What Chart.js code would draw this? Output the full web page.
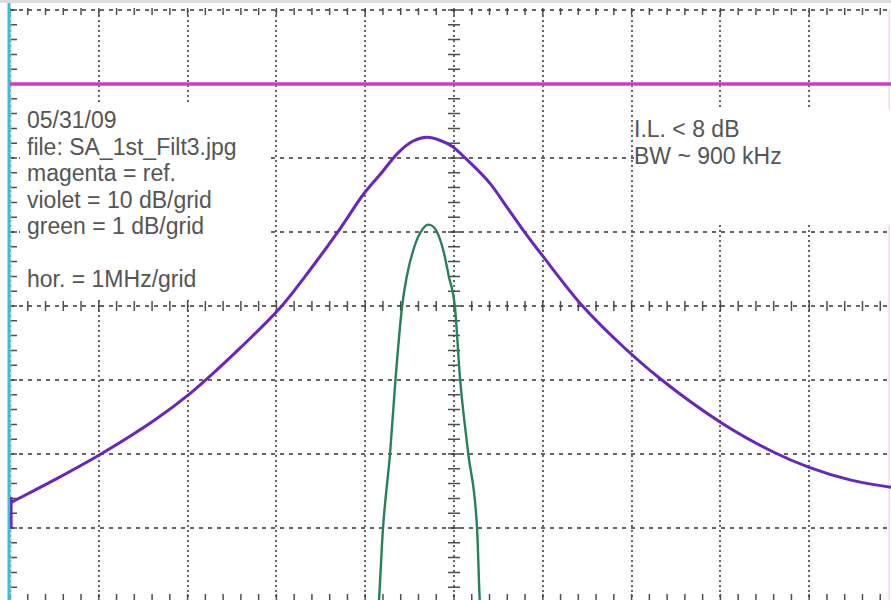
<!DOCTYPE html>
<html>
<head>
<meta charset="utf-8">
<script src="https://cdn.jsdelivr.net/npm/chart.js@4.4.1/dist/chart.umd.min.js"></script>
<style>
  body { margin: 0; overflow: hidden; background: #fff; width: 891px; height: 600px; }
  #wrap { position: absolute; left: 0; top: 0; width: 900px; height: 612px; }
  #topband { position: absolute; left: 0; top: 0; width: 891px; height: 3px; background: #dcdcdc; }
  .note { position: absolute; background: #fff; color: #555;
          font-family: "Liberation Sans", Arial, sans-serif; font-size: 23px; line-height: 26.5px; }
  #noteL { left: 20px; top: 103px; width: 248px; height: 194px; padding-left: 7px; padding-top: 4px; box-sizing: border-box; }
  #noteR { left: 634px; top: 110px; width: 260px; height: 115px; padding-top: 6px; box-sizing: border-box; }
</style>
</head>
<body>
<div id="wrap"><canvas id="sa" width="900" height="612"></canvas></div>
<div id="topband"></div>
<div class="note" id="noteL">05/31/09<br>file: SA_1st_Filt3.jpg<br>magenta = ref.<br>violet = 10 dB/grid<br>green = 1 dB/grid<br><br>hor. = 1MHz/grid</div>
<div class="note" id="noteR">I.L. &lt; 8 dB<br>BW ~ 900 kHz</div>
<script>
// frecuencia relativa en MHz (1 MHz/div), niveles en dB
const refFreq = [-5, 5];
const refDb = [0, 0];

// violeta: 10 dB/div
const violetFreq = [-4.98, -4.50, -3.99, -3.37, -2.97, -2.75, -2.41, -1.94, -1.62, -1.28, -1.02, -0.83, -0.63, -0.46, -0.30, -0.16, -0.01, 0.10, 0.41, 0.57, 0.77, 0.99, 1.44, 1.87, 2.33, 3.00, 3.59, 4.00, 4.46, 4.92, 5.0];
const violetDb = [-56.5, -53.5, -50.1, -45.4, -41.8, -39.5, -35.7, -30.0, -25.1, -19.5, -14.9, -12.2, -9.3, -7.7, -7.2, -7.6, -8.5, -9.7, -13.5, -16.2, -19.6, -23.1, -29.9, -35.1, -39.9, -45.7, -49.7, -51.8, -53.5, -54.5, -54.65];
// salto vertical del trazo violeta en el borde izquierdo
const violetEdgeFreq = [-4.985, -4.985];
const violetEdgeDb = [-55.8, -60.1];

// verde: 1 dB/div
const greenFreq = [-0.86, -0.845, -0.80, -0.72, -0.66, -0.585, -0.53, -0.46, -0.38, -0.29, -0.20, -0.12, -0.06, 0.01, 0.07, 0.16, 0.26, 0.29, 0.31];
const greenDb = [-12.5, -12.28, -11.31, -10.29, -9.31, -8.31, -7.89, -7.55, -7.31, -7.2, -7.28, -7.55, -7.89, -8.31, -9.31, -10.29, -11.31, -12.28, -12.5];

const toPts = (xs, ys) => xs.map((x, i) => ({ x: x, y: ys[i] }));

const gridGray = 'rgba(85, 85, 85, 0.9)';
const violet = 'rgb(104, 38, 192)';

// marcas menores en bordes y ejes centrales
const minorTicks = {
  id: 'minorTicks',
  beforeDatasetsDraw(chart) {
    const { ctx, chartArea: a, scales: { x, y } } = chart;
    ctx.save();
    ctx.strokeStyle = 'rgba(60, 60, 60, 0.9)';
    ctx.lineWidth = 1.5;
    ctx.beginPath();
    const cy = y.getPixelForValue(-30);
    const cx = x.getPixelForValue(0);
    for (let f = -5; f <= 5.001; f += 0.2) {
      const px = x.getPixelForValue(f);
      ctx.moveTo(px, a.top - 2); ctx.lineTo(px, a.top + 5);
      ctx.moveTo(px, a.bottom - 8); ctx.lineTo(px, a.bottom);
      ctx.moveTo(px, cy - 5); ctx.lineTo(px, cy + 5);
    }
    for (let v = -70; v <= 10.001; v += 2) {
      const py = y.getPixelForValue(v);
      ctx.moveTo(a.left, py); ctx.lineTo(a.left + 7, py);
      ctx.moveTo(cx - 6, py); ctx.lineTo(cx + 6, py);
    }
    ctx.stroke();
    // borde izquierdo cian
    ctx.strokeStyle = 'rgb(40, 200, 212)';
    ctx.lineWidth = 3;
    ctx.beginPath();
    ctx.moveTo(a.left - 1, 0); ctx.lineTo(a.left - 1, a.bottom);
    ctx.stroke();
    ctx.strokeStyle = 'rgba(230, 170, 230, 0.7)';
    ctx.lineWidth = 1;
    ctx.beginPath();
    ctx.moveTo(a.left + 1, a.top); ctx.lineTo(a.left + 1, a.bottom);
    const rx = x.getPixelForValue(4.9);
    ctx.moveTo(rx, a.top); ctx.lineTo(rx, a.bottom);
    ctx.stroke();
    ctx.restore();
  }
};

new Chart(document.getElementById('sa'), {
  type: 'line',
  data: {
    datasets: [
      {
        label: 'magenta',
        data: toPts(refFreq, refDb),
        borderColor: 'rgb(204, 60, 204)',
        borderWidth: 3.5,
        pointRadius: 0,
        yAxisID: 'y'
      },
      {
        label: 'violet',
        data: toPts(violetFreq, violetDb),
        borderColor: violet,
        borderWidth: 3,
        pointRadius: 0,
        cubicInterpolationMode: 'monotone',
        yAxisID: 'y'
      },
      {
        label: 'violet edge',
        data: toPts(violetEdgeFreq, violetEdgeDb),
        borderColor: violet,
        borderWidth: 2.5,
        pointRadius: 0,
        yAxisID: 'y'
      },
      {
        label: 'green',
        data: toPts(greenFreq, greenDb),
        borderColor: 'rgb(38, 128, 88)',
        borderWidth: 2.4,
        pointRadius: 0,
        cubicInterpolationMode: 'monotone',
        yAxisID: 'yG'
      }
    ]
  },
  options: {
    responsive: false,
    animation: false,
    layout: { padding: { left: 10, top: 10, right: 2, bottom: 10 } },
    plugins: { legend: { display: false }, tooltip: { enabled: false } },
    scales: {
      x: {
        type: 'linear',
        min: -5,
        max: 5,
        ticks: { display: false, stepSize: 1 },
        grid: { color: gridGray, lineWidth: 2, drawTicks: false },
        border: { display: false, dash: [2, 3] }
      },
      y: {
        type: 'linear',
        min: -70,
        max: 10,
        ticks: { display: false, stepSize: 10 },
        grid: { color: gridGray, lineWidth: 2, drawTicks: false },
        border: { display: false, dash: [4, 5] }
      },
      yG: {
        type: 'linear',
        display: false,
        min: -12.3,
        max: -4.3
      }
    }
  },
  plugins: [minorTicks]
});
</script>
</body>
</html>
